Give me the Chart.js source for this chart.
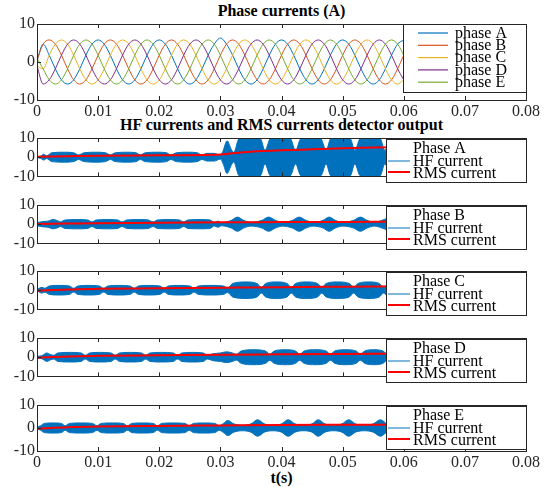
<!DOCTYPE html>
<html>
<head>
<meta charset="utf-8">
<script src="https://cdn.jsdelivr.net/npm/chart.js@4.4.1/dist/chart.umd.min.js"></script>
<style>
  body { margin: 0; background: #fff; }
  #wrap { position: relative; width: 553px; height: 487px; background: #fff; overflow: hidden; }
  #wrap canvas { position: absolute; left: 0; }
  .ttl { position: absolute; left: 37px; width: 489px; text-align: center; font: bold 16px "Liberation Serif", "Times New Roman", serif; line-height: 18px; color: #000; }
</style>
</head>
<body>
<div id="wrap">
  <div class="ttl" style="top:2px">Phase currents (A)</div>
  <div class="ttl" style="top:116px">HF currents and RMS currents detector output</div>
  <div class="ttl" style="top:469px">t(s)</div>
  <canvas id="c0" width="553" height="112" style="top:12px"></canvas>
  <canvas id="c1" width="553" height="62" style="top:126px"></canvas>
  <canvas id="c2" width="553" height="62" style="top:193px"></canvas>
  <canvas id="c3" width="553" height="62" style="top:259px"></canvas>
  <canvas id="c4" width="553" height="62" style="top:326px"></canvas>
  <canvas id="c5" width="553" height="82" style="top:393px"></canvas>
</div>
<script>
// phase currents, sampled every 1 ms from 0 to 0.06 s
var phaseStep = 0.001;
var phaseA = [0.3, 4.7, 1.8, -1.8, -4.7, -5.8, -4.7, -1.8, 1.8, 4.7,
  5.8, 4.7, 1.8, -1.8, -4.7, -5.8, -4.7, -1.8, 1.8, 4.7,
  5.8, 4.7, 1.8, -1.8, -4.7, -5.8, -4.7, -1.8, 1.8, 4.7,
  6.3, 4.7, 1.8, -1.8, -4.7, -5.8, -4.7, -1.8, 1.8, 4.7,
  5.8, 4.7, 1.8, -1.8, -4.7, -5.8, -4.7, -1.8, 1.8, 4.7,
  5.8, 4.7, 1.8, -1.8, -4.7, -5.8, -4.7, -1.8, 1.8, 4.7, 5.8];
var phaseB = [0.5, 4.7, 5.8, 4.7, 1.8, -1.8, -4.7, -5.8, -4.7, -1.8,
  1.8, 4.7, 5.8, 4.7, 1.8, -1.8, -4.7, -5.8, -4.7, -1.8,
  1.8, 4.7, 5.8, 4.7, 1.8, -1.8, -4.7, -5.8, -4.7, -1.8,
  1.8, 4.7, 5.8, 4.7, 1.8, -1.8, -4.7, -5.8, -4.7, -1.8,
  1.8, 4.7, 5.8, 4.7, 1.8, -1.8, -4.7, -5.8, -4.7, -1.8,
  1.8, 4.7, 5.8, 4.7, 1.8, -1.8, -4.7, -5.8, -4.7, -1.8, 1.8];
var phaseC = [-1.0, -1.8, 1.8, 4.7, 5.8, 4.7, 1.8, -1.8, -4.7, -5.8,
  -4.7, -1.8, 1.8, 4.7, 5.8, 4.7, 1.8, -1.8, -4.7, -5.8,
  -4.7, -1.8, 1.8, 4.7, 5.8, 4.7, 1.8, -1.8, -4.7, -5.8,
  -4.7, -1.8, 1.8, 4.7, 5.8, 4.7, 1.8, -1.8, -4.7, -5.8,
  -4.7, -1.8, 1.8, 4.7, 5.8, 4.7, 1.8, -1.8, -4.7, -5.8,
  -4.7, -1.8, 1.8, 4.7, 5.8, 4.7, 1.8, -1.8, -4.7, -5.8, -4.7];
var phaseD = [-1.0, -5.8, -4.7, -1.8, 1.8, 4.7, 5.8, 4.7, 1.8, -1.8,
  -4.7, -5.8, -4.7, -1.8, 1.8, 4.7, 5.8, 4.7, 1.8, -1.8,
  -4.7, -5.8, -4.7, -1.8, 1.8, 4.7, 5.8, 4.7, 1.8, -1.8,
  -4.7, -5.8, -4.7, -1.8, 1.8, 4.7, 5.8, 4.7, 1.8, -1.8,
  -4.7, -5.8, -4.7, -1.8, 1.8, 4.7, 5.8, 4.7, 1.8, -1.8,
  -4.7, -5.8, -4.7, -1.8, 1.8, 4.7, 5.8, 4.7, 1.8, -1.8, -4.7];
var phaseE = [1.0, -1.8, -4.7, -5.8, -4.7, -1.8, 1.8, 4.7, 5.8, 4.7,
  1.8, -1.8, -4.7, -5.8, -4.7, -1.8, 1.8, 4.7, 5.8, 4.7,
  1.8, -1.8, -4.7, -5.8, -4.7, -1.8, 1.8, 4.7, 5.8, 4.7,
  1.8, -1.8, -4.7, -5.8, -4.7, -1.8, 1.8, 4.7, 5.8, 4.7,
  1.8, -1.8, -4.7, -5.8, -4.7, -1.8, 1.8, 4.7, 5.8, 4.7,
  1.8, -1.8, -4.7, -5.8, -4.7, -1.8, 1.8, 4.7, 5.8, 4.7, 1.8];
var phaseNames = ['phase A', 'phase B', 'phase C', 'phase D', 'phase E'];
var phaseColors = ['#0072BD', '#D95319', '#EDB120', '#7E2F8E', '#77AC30'];

// HF current envelope (amplitude, A) at given times
var hfTimeA = [0, 0.0006, 0.0011, 0.0016, 0.0024, 0.0045, 0.0060, 0.0068, 0.0077, 0.0097, 0.0112, 0.0120, 0.0128, 0.0148, 0.0162, 0.0169, 0.0177, 0.0198, 0.0212, 0.0219, 0.0228, 0.0248, 0.0262, 0.0270, 0.0278, 0.0290, 0.0300, 0.0304, 0.0311, 0.0318, 0.0322, 0.0330, 0.0348, 0.0366, 0.0373, 0.0381, 0.0397, 0.0415, 0.0423, 0.0431, 0.0448, 0.0465, 0.0473, 0.0480, 0.0497, 0.0513, 0.0520, 0.0528, 0.0545, 0.0562, 0.0569, 0.0578, 0.0595, 0.0600];
var hfAmpA = [0.2, 0.6, 1.5, 0.7, 2.3, 2.6, 2.3, 1.2, 2.3, 2.6, 2.3, 1.2, 2.3, 2.6, 2.3, 1.2, 2.3, 2.6, 2.3, 1.2, 2.3, 2.6, 2.3, 1.2, 2.0, 2.0, 1.0, 3.0, 8.5, 4.0, 2.5, 9.5, 11.5, 9.5, 3.5, 9.5, 11.5, 9.5, 3.5, 9.5, 11.5, 9.5, 3.5, 9.5, 11.5, 9.5, 3.5, 9.5, 11.5, 9.5, 3.5, 9.5, 11.5, 11.3];
var hfTimeB = [0, 0.0008, 0.0018, 0.0026, 0.0034, 0.0038, 0.0046, 0.0068, 0.0083, 0.0090, 0.0097, 0.0118, 0.0132, 0.0139, 0.0147, 0.0168, 0.0182, 0.0190, 0.0197, 0.0218, 0.0233, 0.0240, 0.0247, 0.0268, 0.0283, 0.0290, 0.0296, 0.0302, 0.0310, 0.0318, 0.0328, 0.0338, 0.0350, 0.0368, 0.0379, 0.0390, 0.0402, 0.0418, 0.0429, 0.0440, 0.0452, 0.0468, 0.0478, 0.0488, 0.0500, 0.0518, 0.0529, 0.0540, 0.0552, 0.0568, 0.0580, 0.0600];
var hfAmpB = [0.8, 1.3, 1.6, 2.4, 1.8, 1.2, 2.2, 2.4, 2.2, 1.2, 2.2, 2.4, 2.2, 1.2, 2.2, 2.4, 2.2, 1.2, 2.2, 2.4, 2.2, 1.2, 2.2, 2.4, 2.2, 0.9, 1.6, 0.8, 1.2, 2.0, 3.7, 2.0, 1.0, 2.0, 3.7, 2.0, 1.0, 2.0, 3.7, 2.0, 1.0, 2.0, 3.7, 2.0, 1.0, 2.0, 3.7, 2.0, 1.0, 2.4, 3.7, 1.2];
var hfTimeC = [0, 0.0008, 0.0013, 0.0020, 0.0036, 0.0053, 0.0060, 0.0067, 0.0085, 0.0102, 0.0109, 0.0116, 0.0134, 0.0152, 0.0159, 0.0166, 0.0183, 0.0201, 0.0208, 0.0215, 0.0232, 0.0250, 0.0257, 0.0264, 0.0285, 0.0305, 0.0312, 0.0320, 0.0342, 0.0360, 0.0367, 0.0374, 0.0392, 0.0409, 0.0416, 0.0423, 0.0441, 0.0459, 0.0466, 0.0473, 0.0492, 0.0511, 0.0518, 0.0525, 0.0543, 0.0560, 0.0567, 0.0575, 0.0592, 0.0600];
var hfAmpC = [0.3, 1.5, 1.0, 2.2, 2.5, 2.2, 1.0, 2.2, 2.5, 2.2, 1.0, 2.2, 2.5, 2.2, 1.0, 2.2, 2.5, 2.2, 1.0, 2.2, 2.5, 2.2, 1.0, 2.2, 2.5, 2.2, 1.2, 3.5, 4.3, 3.5, 1.5, 3.5, 4.3, 3.5, 1.5, 3.5, 4.3, 3.5, 1.5, 3.5, 4.3, 3.5, 1.5, 3.5, 4.3, 3.5, 1.5, 3.5, 4.3, 4.0];
var hfTimeD = [0, 0.0008, 0.0016, 0.0022, 0.0027, 0.0034, 0.0055, 0.0072, 0.0079, 0.0086, 0.0104, 0.0121, 0.0128, 0.0135, 0.0153, 0.0171, 0.0178, 0.0185, 0.0204, 0.0223, 0.0230, 0.0237, 0.0255, 0.0272, 0.0279, 0.0288, 0.0300, 0.0310, 0.0320, 0.0326, 0.0334, 0.0354, 0.0374, 0.0381, 0.0388, 0.0406, 0.0423, 0.0430, 0.0437, 0.0455, 0.0473, 0.0480, 0.0487, 0.0505, 0.0522, 0.0529, 0.0536, 0.0551, 0.0566, 0.0573, 0.0580, 0.0600];
var hfAmpD = [0.5, 0.8, 2.2, 1.4, 1.0, 2.2, 2.5, 2.2, 1.0, 2.2, 2.5, 2.2, 1.0, 2.2, 2.5, 2.2, 1.0, 2.2, 2.5, 2.2, 1.0, 2.2, 2.5, 2.2, 1.0, 1.8, 2.2, 2.8, 2.2, 1.5, 3.2, 3.9, 3.2, 1.6, 3.2, 3.9, 3.2, 1.6, 3.2, 3.9, 3.2, 1.6, 3.2, 3.9, 3.2, 1.6, 3.2, 3.9, 3.2, 1.6, 3.2, 3.9];
var hfTimeE = [0, 0.0006, 0.0012, 0.0028, 0.0040, 0.0046, 0.0053, 0.0073, 0.0091, 0.0098, 0.0105, 0.0124, 0.0141, 0.0148, 0.0155, 0.0173, 0.0190, 0.0197, 0.0204, 0.0224, 0.0242, 0.0249, 0.0256, 0.0274, 0.0291, 0.0298, 0.0305, 0.0312, 0.0322, 0.0336, 0.0350, 0.0361, 0.0372, 0.0386, 0.0400, 0.0411, 0.0422, 0.0436, 0.0450, 0.0460, 0.0471, 0.0485, 0.0499, 0.0510, 0.0521, 0.0536, 0.0550, 0.0562, 0.0573, 0.0600];
var hfAmpE = [0.3, 1.0, 2.0, 2.2, 2.0, 1.0, 2.0, 2.2, 2.0, 1.0, 2.0, 2.2, 2.0, 1.0, 2.0, 2.2, 2.0, 1.0, 2.0, 2.2, 2.0, 1.0, 2.0, 2.2, 2.0, 1.0, 2.0, 3.3, 1.8, 1.2, 1.8, 3.6, 1.8, 1.2, 1.8, 3.6, 1.8, 1.2, 1.8, 3.6, 1.8, 1.2, 1.8, 3.6, 1.8, 1.2, 1.8, 3.6, 1.8, 1.2];

// RMS detector output
var rmsTimeA = [0, 0.005, 0.01, 0.02, 0.03, 0.032, 0.035, 0.037, 0.04, 0.045, 0.05, 0.055, 0.06];
var rmsA = [0.2, 0.5, 0.8, 1.0, 1.4, 2.0, 2.8, 3.2, 3.6, 4.1, 4.6, 5.0, 5.2];
var rmsTime = [0, 0.005, 0.01, 0.02, 0.03, 0.04, 0.05, 0.06];
var rmsB = [0.1, 0.3, 0.5, 0.8, 1.0, 1.1, 1.2, 1.3];
var rmsC = [-0.3, 0.4, 0.7, 1.0, 1.3, 1.6, 1.8, 2.0];
var rmsD = [-0.3, 0.4, 0.7, 1.0, 1.3, 1.5, 1.7, 1.9];
var rmsE = [-0.3, 0.3, 0.6, 0.9, 1.1, 1.3, 1.4, 1.5];

var FONT = '"Liberation Serif", "Times New Roman", serif';
Chart.defaults.font.family = FONT;
Chart.defaults.font.size = 16;
Chart.defaults.color = '#262626';

function pts(ts, vs) {
    return vs.map(function (v, i) { return { x: ts[i], y: v }; });
}

// legend + inward ticks + box, MATLAB style
const matlabAxes = {
    id: 'matlabAxes',
    afterDatasetsDraw(chart, args, opts) {
        const ctx = chart.ctx, a = chart.chartArea;
        const x = chart.scales.x, y = chart.scales.y;
        ctx.save();
        ctx.strokeStyle = '#262626';
        ctx.lineWidth = 1;
        ctx.beginPath();
        x.ticks.forEach(function (t) {
            var px = Math.round(x.getPixelForValue(t.value)) + 0.5;
            ctx.moveTo(px, a.bottom); ctx.lineTo(px, a.bottom - 4);
            ctx.moveTo(px, a.top); ctx.lineTo(px, a.top + 4);
        });
        y.ticks.forEach(function (t) {
            var py = Math.round(y.getPixelForValue(t.value)) + 0.5;
            ctx.moveTo(a.left, py); ctx.lineTo(a.left + 4, py);
            ctx.moveTo(a.right, py); ctx.lineTo(a.right - 4, py);
        });
        ctx.stroke();
        ctx.strokeRect(Math.round(a.left) + 0.5, Math.round(a.top) + 0.5, Math.round(a.width), Math.round(a.height));

        var L = opts.legend;
        if (L) {
            var top = a.top + L.dy;
            ctx.fillStyle = '#fff';
            ctx.fillRect(L.x, top, a.right - L.x, L.h);
            ctx.strokeStyle = '#262626';
            ctx.lineWidth = 1;
            ctx.strokeRect(L.x + 0.5, top + 0.5, Math.round(a.right - L.x), L.h);
            ctx.font = '16px ' + FONT;
            ctx.textBaseline = 'middle';
            ctx.textAlign = 'left';
            L.items.forEach(function (it) {
                if (it.color) {
                    ctx.strokeStyle = it.color;
                    ctx.lineWidth = it.width || 1;
                    ctx.beginPath();
                    ctx.moveTo(L.lineX0, top + it.ly);
                    ctx.lineTo(L.lineX1, top + it.ly);
                    ctx.stroke();
                }
                ctx.fillStyle = '#000';
                ctx.fillText(it.text, L.textX, top + it.ty);
            });
        }
        ctx.restore();
    }
};

function baseOptions(showX, legend) {
    return {
        responsive: false,
        animation: false,
        devicePixelRatio: 1,
        layout: { padding: { top: 12, right: 27, left: 0, bottom: 0 } },
        plugins: { legend: { display: false }, tooltip: { enabled: false }, matlabAxes: { legend: legend } },
        scales: {
            x: {
                type: 'linear', min: 0, max: 0.08,
                grid: { display: false, drawTicks: false },
                border: { display: false },
                ticks: {
                    display: showX, stepSize: 0.01, autoSkip: false, maxRotation: 0, padding: 2,
                    callback: function (v) { return v === 0 ? '0' : v.toFixed(2); }
                },
                afterFit: function (s) { s.height = showX ? 24 : 4; }
            },
            y: {
                min: -10, max: 10,
                grid: { display: false, drawTicks: false },
                border: { display: false },
                ticks: { stepSize: 10, padding: 2, autoSkip: false },
                afterFit: function (s) { s.width = 37; }
            }
        }
    };
}

// top plot: phase currents
var phaseSets = [phaseA, phaseB, phaseC, phaseD, phaseE].map(function (vals, k) {
    var ts = vals.map(function (v, i) { return i * phaseStep; });
    return {
        label: phaseNames[k],
        data: pts(ts, vals),
        borderColor: phaseColors[k],
        borderWidth: 1,
        pointRadius: 0,
        cubicInterpolationMode: 'monotone',
        order: 4 - k
    };
});
var topLegend = {
    x: 403, dy: 0, h: 68, lineX0: 418, lineX1: 448, textX: 455,
    items: phaseNames.map(function (n, k) {
        return { text: n, color: phaseColors[k], width: 1.2, ly: 9 + 12.3 * k, ty: 9.5 + 12.3 * k };
    })
};
new Chart(document.getElementById('c0'), {
    type: 'line',
    data: { datasets: phaseSets },
    options: baseOptions(true, topLegend),
    plugins: [matlabAxes]
});

// HF plots
function makeHF(id, name, ts, amps, rt, rv, showX) {
    var legend = {
        x: 386, dy: 1, h: 43, lineX0: 388, lineX1: 410, textX: 413,
        items: [
            { text: name, ty: 10 },
            { text: 'HF current', color: '#0072BD', width: 1, ly: 22, ty: 22.5 },
            { text: 'RMS current', color: '#FF0000', width: 2, ly: 33, ty: 35 }
        ]
    };
    new Chart(document.getElementById(id), {
        type: 'line',
        data: {
            datasets: [
                { label: 'RMS current', data: pts(rt, rv), borderColor: '#FF0000', borderWidth: 2, pointRadius: 0, cubicInterpolationMode: 'monotone', fill: false },
                { label: 'HF current', data: pts(ts, amps), borderColor: '#0072BD', backgroundColor: '#0072BD', borderWidth: 1, pointRadius: 0, cubicInterpolationMode: 'monotone', fill: '+1', clip: 0 },
                { label: 'HF lower', data: pts(ts, amps.map(function (v) { return -v; })), borderColor: '#0072BD', borderWidth: 1, pointRadius: 0, cubicInterpolationMode: 'monotone', fill: false, clip: 0 }
            ]
        },
        options: baseOptions(showX, legend),
        plugins: [matlabAxes]
    });
}

makeHF('c1', 'Phase A', hfTimeA, hfAmpA, rmsTimeA, rmsA, false);
makeHF('c2', 'Phase B', hfTimeB, hfAmpB, rmsTime, rmsB, false);
makeHF('c3', 'Phase C', hfTimeC, hfAmpC, rmsTime, rmsC, false);
makeHF('c4', 'Phase D', hfTimeD, hfAmpD, rmsTime, rmsD, false);
makeHF('c5', 'Phase E', hfTimeE, hfAmpE, rmsTime, rmsE, true);
</script>
</body>
</html>
